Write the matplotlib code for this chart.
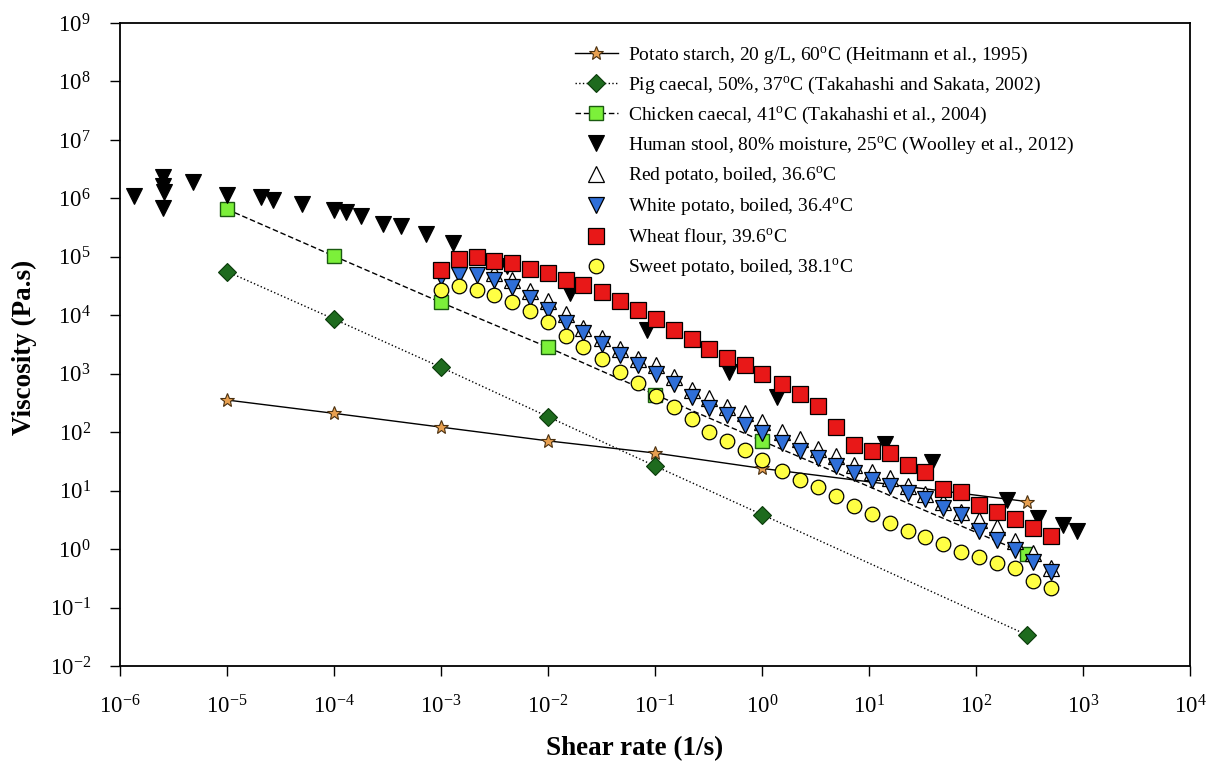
import matplotlib
matplotlib.use("Agg")
import matplotlib.pyplot as plt
from matplotlib.ticker import FixedLocator, LogFormatterMathtext, NullLocator

plt.rcParams['font.family'] = ['Liberation Serif', 'DejaVu Serif']
plt.rcParams['mathtext.fontset'] = 'custom'
plt.rcParams['mathtext.rm'] = 'Liberation Serif'

# ---------------- data ----------------
x_ticks = [1e-6, 1e-5, 1e-4, 1e-3, 1e-2, 1e-1, 1e0, 1e1, 1e2, 1e3, 1e4]
y_ticks = [1e-2, 1e-1, 1e0, 1e1, 1e2, 1e3, 1e4, 1e5, 1e6, 1e7, 1e8, 1e9]

ref_shear = [1e-5, 1e-4, 1e-3, 1e-2, 1e-1, 1e0, 300]
potato_starch = [355, 210, 122, 71, 44, 24, 6.5]
pig_caecal = [5.6e4, 8.6e3, 1290, 184, 26.4, 3.9, 0.034]
chicken_caecal = [6.5e5, 1.03e5, 1.66e4, 2830, 440, 71, 0.82]

stool_shear = [1.35e-6, 2.5e-6, 2.5e-6, 2.6e-6, 2.5e-6, 4.8e-6, 1.0e-5, 2.1e-5, 2.7e-5,
               5.0e-5, 1.0e-4, 1.3e-4, 1.8e-4, 2.9e-4, 4.2e-4, 7.2e-4, 1.3e-3, 4.1e-3,
               1.6e-2, 8.5e-2, 0.49, 1.37, 14, 38.5, 194, 383, 646, 883]
stool_visc = [1.11e6, 2.3e6, 1.65e6, 1.3e6, 6.8e5, 1.88e6, 1.14e6, 1.07e6, 9.4e5,
              7.9e5, 6.2e5, 5.8e5, 4.9e5, 3.7e5, 3.4e5, 2.45e5, 1.75e5, 7.0e4,
              2.4e4, 5.6e3, 1080, 405, 64, 31, 6.9, 3.4, 2.6, 2.06]

food_shear = [1.0e-3, 1.48e-3, 2.16e-3, 3.13e-3, 4.58e-3, 6.79e-3, 1.0e-2, 1.46e-2,
              2.14e-2, 3.18e-2, 4.71e-2, 6.98e-2, 0.102, 0.151, 0.220, 0.321, 0.468,
              0.693, 1.01, 1.53, 2.26, 3.36, 4.92, 7.24, 10.6, 15.7, 23.0, 33.6, 49.4,
              72.4, 107, 156, 231, 339, 499]

red_potato_shear = food_shear[3:]
red_potato = [53700, 39800, 26300, 17800, 10700, 6030, 4070, 2630, 1780, 1410, 891,
              537, 380, 275, 209, 151, 102, 75.9, 52.5, 38.9, 27.5, 20.9, 16.2, 12.0,
              8.91, 6.46, 4.37, 3.16, 2.40, 1.35, 0.85, 0.47]

white_potato = [45700, 49000, 49000, 39800, 30900, 19500, 12300, 7410, 4900, 3240,
                2090, 1410, 989, 661, 407, 257, 195, 132, 95.5, 64.6, 47.9, 35.5,
                26.3, 20.0, 15.5, 12.0, 9.0, 7.08, 5.13, 3.80, 2.0, 1.43, 0.96, 0.59,
                0.40]

wheat_flour = [58900, 91200, 100000, 85100, 77600, 61700, 52500, 39800, 33100, 25100,
               17400, 12300, 8510, 5620, 3890, 2690, 1860, 1410, 989, 661, 447, 282,
               123, 60.3, 47.9, 44.7, 27.5, 20.9, 10.7, 9.55, 5.62, 4.37, 3.24, 2.34,
               1.66]

sweet_potato = [27500, 31600, 27500, 22400, 17000, 12000, 7590, 4420, 2880, 1780,
                1070, 692, 417, 269, 166, 102, 70.8, 49.0, 33.1, 21.9, 15.1, 11.5,
                7.94, 5.50, 3.93, 2.75, 2.04, 1.58, 1.22, 0.90, 0.72, 0.58, 0.47,
                0.29, 0.22]

labels = [
    "Potato starch, 20 g/L, 60$^{\\mathdefault{o}}$C (Heitmann et al., 1995)",
    "Pig caecal, 50%, 37$^{\\mathdefault{o}}$C (Takahashi and Sakata, 2002)",
    "Chicken caecal, 41$^{\\mathdefault{o}}$C (Takahashi et al., 2004)",
    "Human stool, 80% moisture, 25$^{\\mathdefault{o}}$C (Woolley et al., 2012)",
    "Red potato, boiled, 36.6$^{\\mathdefault{o}}$C",
    "White potato, boiled, 36.4$^{\\mathdefault{o}}$C",
    "Wheat flour, 39.6$^{\\mathdefault{o}}$C",
    "Sweet potato, boiled, 38.1$^{\\mathdefault{o}}$C",
]

# ---------------- figure ----------------
fig = plt.figure(figsize=(12.2, 7.62), dpi=100)
ax = fig.add_axes([120/1220, 1-666/762, 1070/1220, 643/762])

ax.plot(ref_shear, potato_starch, '-', color='black', lw=1.0, marker='*', ms=10,
        mfc='#E8A050', mec='#4a3010', mew=0.8, label=labels[0])
ax.plot(ref_shear, pig_caecal, ':', color='black', lw=1.0, marker='D', ms=9,
        mfc='#1E6B1E', mec='#0a3a0a', mew=0.8, label=labels[1])
ax.plot(ref_shear, chicken_caecal, '--', color='black', lw=1.0, dashes=(4, 2), marker='s', ms=10,
        mfc='#7CF03A', mec='#1a5a10', mew=1.0, label=labels[2])
ax.plot(stool_shear, stool_visc, 'v', ms=12, mfc='black', mec='black', mew=0.8,
        label=labels[3])
ax.plot(red_potato_shear, red_potato, '^', ms=11, mfc='white', mec='black', mew=0.9,
        label=labels[4])
ax.plot(food_shear, white_potato, 'v', ms=11, mfc='#2F6FD8', mec='black', mew=0.9,
        label=labels[5])
ax.plot(food_shear, wheat_flour, 's', ms=11, mfc='#E81818', mec='black', mew=0.9,
        label=labels[6])
ax.plot(food_shear, sweet_potato, 'o', ms=10.5, mfc='#FFFF44', mec='black', mew=0.9,
        label=labels[7])

ax.set_xscale('log')
ax.set_yscale('log')
ax.set_xlim(1e-6, 1e4)
ax.set_ylim(1e-2, 1e9)
ax.xaxis.set_major_locator(FixedLocator(x_ticks))
ax.yaxis.set_major_locator(FixedLocator(y_ticks))
ax.xaxis.set_minor_locator(NullLocator())
ax.yaxis.set_minor_locator(NullLocator())
ax.xaxis.set_major_formatter(LogFormatterMathtext())
ax.yaxis.set_major_formatter(LogFormatterMathtext())
ax.tick_params(axis='both', which='major', direction='out', length=7, width=1.0,
               labelsize=16.5, top=False, right=False)
ax.tick_params(axis='x', pad=14)
ax.tick_params(axis='y', pad=14)
for sp in ax.spines.values():
    sp.set_linewidth(1.3)

ax.set_xlabel("Shear rate (1/s)", fontsize=19.5, fontweight='bold')
ax.set_ylabel("Viscosity (Pa.s)", fontsize=19.5, fontweight='bold')
ax.xaxis.set_label_coords((635-120)/1070, (666-749)/643)
ax.yaxis.set_label_coords((24-120)/1070, (666-347)/643)
ax.xaxis.label.set_verticalalignment('center')
ax.yaxis.label.set_verticalalignment('center')

leg = ax.legend(loc='upper left', bbox_to_anchor=(575/1220, 1-44/762),
                bbox_transform=fig.transFigure, frameon=False, fontsize=14,
                borderpad=0, borderaxespad=0, handlelength=2.2, handletextpad=0.55,
                labelspacing=0.39, numpoints=1)

fig.savefig("out.png", dpi=100)
